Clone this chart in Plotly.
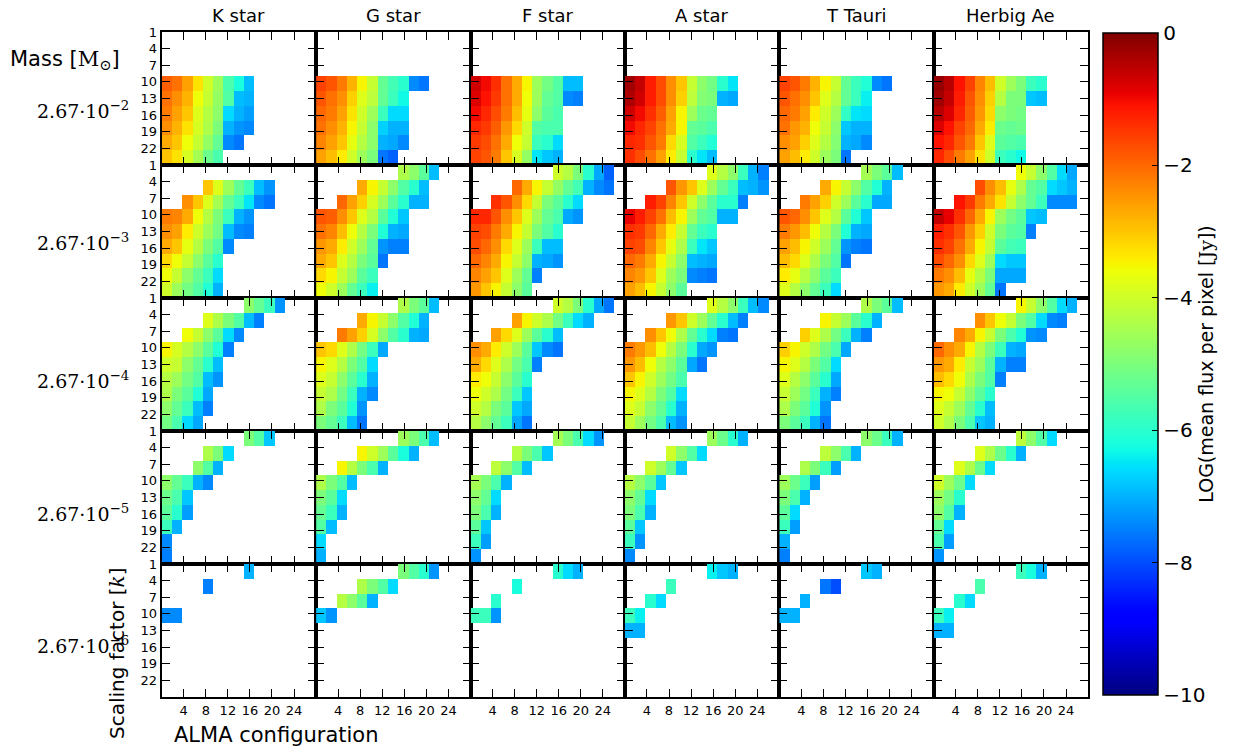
import plotly.graph_objects as go

# ---------------- data ----------------
stars = ["K star", "G star", "F star", "A star", "T Tauri", "Herbig Ae"]
mass_labels = ["2.67·10<sup>−2</sup>", "2.67·10<sup>−3</sup>", "2.67·10<sup>−4</sup>",
               "2.67·10<sup>−5</sup>", "2.67·10<sup>−6</sup>"]
scaling_rows = [1, 4, 7, 10, 13, 16, 19, 22, 25]
n_config = 15
x_ticks = [4, 8, 12, 16, 20, 24]
y_ticks = [1, 4, 7, 10, 13, 16, 19, 22]
cbar_ticks = [0, -2, -4, -6, -8, -10]


def R(start, vals=()):
    vals = list(vals)
    return [None] * (start - 1) + vals + [None] * (n_config - (start - 1) - len(vals))


E = R(1)

# mass 2.67e-2
K_2 = [E, E, E,
       R(1, [-1.9, -2.1, -2.6, -3.3, -4.0, -4.6, -5.6, -6.2, -6.9]),
       R(1, [-2.1, -2.4, -2.8, -3.6, -4.1, -4.7, -5.5, -6.9, -7.0]),
       R(1, [-2.2, -2.6, -3.0, -3.8, -4.3, -4.8, -6.6, -7.0, -7.2]),
       R(1, [-2.4, -2.8, -3.3, -3.9, -4.4, -5.0, -7.0, -7.3, -7.4]),
       R(1, [-2.7, -3.0, -3.6, -4.1, -4.7, -5.3, -7.4, -7.6]),
       R(1, [-3.0, -3.3, -3.9, -4.5, -5.2, -5.6])]
G_2 = [E, E, E,
       R(1, [-1.6, -1.8, -2.2, -2.8, -3.5, -4.1, -5.3, -5.7, -6.0, -7.4, -7.6]),
       R(1, [-1.8, -2.1, -2.4, -3.1, -3.8, -4.2, -5.3, -5.8, -6.3]),
       R(1, [-2.0, -2.2, -2.6, -3.3, -4.0, -4.6, -5.8, -6.6, -6.6]),
       R(1, [-2.1, -2.4, -2.8, -3.5, -4.1, -4.8, -6.7, -7.0, -7.0]),
       R(1, [-2.3, -2.6, -3.0, -3.7, -4.3, -4.8, -7.0, -7.1, -7.4]),
       R(1, [-2.6, -2.9, -3.4, -4.0, -4.6, -5.0, -7.6, -7.8])]
F_2 = [E, E, E,
       R(1, [-0.7, -1.0, -1.4, -2.1, -2.7, -3.5, -4.6, -5.1, -5.5, -6.9, -6.9]),
       R(1, [-0.8, -1.1, -1.5, -2.1, -2.7, -3.6, -4.6, -5.3, -5.5, -7.4, -7.5]),
       R(1, [-1.0, -1.3, -1.7, -2.2, -2.9, -3.7, -4.8, -5.4, -5.6]),
       R(1, [-1.3, -1.5, -1.9, -2.5, -3.2, -4.0, -5.5, -5.6, -5.6]),
       R(1, [-1.5, -1.7, -2.1, -2.7, -3.6, -4.1, -5.8, -6.0, -6.6]),
       R(1, [-1.6, -1.8, -2.2, -3.0, -3.9, -4.7, -6.5, -6.8, -7.0])]
A_2 = [E, E, E,
       R(1, [-0.3, -0.6, -1.2, -1.7, -2.4, -3.0, -4.1, -4.8, -5.1, -6.0, -6.5]),
       R(1, [-0.4, -0.7, -1.2, -1.7, -2.4, -3.1, -4.2, -4.9, -5.0, -7.0, -7.1]),
       R(1, [-0.7, -1.0, -1.4, -1.9, -2.6, -3.5, -4.6, -5.2, -5.3]),
       R(1, [-1.0, -1.3, -1.6, -2.1, -2.7, -3.5, -5.3, -5.4, -5.6]),
       R(1, [-1.3, -1.4, -1.8, -2.2, -3.2, -3.9, -5.5, -5.8, -6.1]),
       R(1, [-1.4, -1.7, -2.1, -2.6, -3.4, -4.1, -6.0, -6.5, -6.9])]
T_2 = [E, E, E,
       R(1, [-1.6, -1.8, -2.2, -2.8, -3.5, -4.1, -5.3, -5.8, -6.1, -7.4, -7.6]),
       R(1, [-1.8, -2.1, -2.4, -3.0, -3.8, -4.3, -5.3, -5.8, -6.4]),
       R(1, [-2.0, -2.2, -2.6, -3.4, -4.0, -4.6, -5.9, -6.5, -6.6]),
       R(1, [-2.1, -2.5, -2.8, -3.6, -4.1, -4.8, -6.8, -7.0, -7.0]),
       R(1, [-2.4, -2.6, -3.1, -3.8, -4.3, -4.9, -7.0, -7.1, -7.4]),
       R(1, [-2.6, -2.9, -3.4, -4.0, -4.6, -5.0, -7.6])]
H_2 = [E, E, E,
       R(1, [-0.2, -0.5, -1.1, -1.6, -2.3, -2.9, -4.0, -4.6, -5.0, -5.8, -6.0]),
       R(1, [-0.3, -0.6, -1.2, -1.8, -2.4, -3.1, -4.3, -5.0, -5.0, -6.8, -6.9]),
       R(1, [-0.5, -0.8, -1.3, -1.9, -2.5, -3.2, -4.8, -5.0, -5.1]),
       R(1, [-0.8, -1.1, -1.6, -2.0, -2.7, -3.4, -5.2, -5.3, -5.2]),
       R(1, [-1.1, -1.3, -1.8, -2.2, -3.0, -3.8, -5.4, -5.5, -5.6]),
       R(1, [-1.3, -1.7, -2.2, -2.6, -3.3, -4.0, -5.8, -6.0, -6.3])]

# mass 2.67e-3
K_3 = [E,
       R(5, [-3.0, -3.8, -4.6, -5.3, -5.8, -6.9, -7.3]),
       R(3, [-2.4, -3.0, -3.8, -4.5, -5.3, -5.8, -6.5, -7.4, -7.6]),
       R(1, [-2.2, -2.3, -2.7, -3.6, -4.3, -5.0, -5.8, -7.0, -7.3]),
       R(1, [-2.4, -2.6, -3.4, -4.0, -4.6, -5.1, -6.9, -7.4, -7.5]),
       R(1, [-2.7, -3.0, -3.7, -4.3, -5.0, -5.5, -7.4]),
       R(1, [-3.2, -3.6, -4.1, -4.8, -5.4, -6.0]),
       R(1, [-3.6, -4.1, -4.8, -5.3, -5.8, -6.6]),
       R(1, [-4.0, -4.6, -5.1, -5.5, -6.1, -7.0])]
G_3 = [R(9, [-4.4, -4.8, -5.4, -6.9]),
       R(5, [-2.7, -3.5, -4.1, -4.8, -5.5, -6.0, -6.9]),
       R(3, [-2.0, -2.6, -3.1, -3.9, -4.6, -5.4, -6.0, -7.0, -7.0]),
       R(1, [-1.8, -1.9, -2.4, -3.0, -3.8, -4.3, -5.4, -6.1, -6.8]),
       R(1, [-2.1, -2.3, -2.9, -3.6, -4.3, -5.0, -6.1, -7.0, -7.1]),
       R(1, [-2.5, -2.7, -3.4, -4.0, -4.6, -5.3, -7.3, -7.5, -7.5]),
       R(1, [-2.7, -3.0, -3.8, -4.3, -5.0, -5.4, -7.6]),
       R(1, [-3.2, -3.5, -4.1, -4.6, -5.4, -5.8]),
       R(1, [-3.6, -4.0, -4.6, -5.3, -5.8, -6.4])]
F_3 = [R(9, [-4.0, -4.3, -5.0, -6.0, -7.1, -7.8]),
       R(5, [-2.0, -2.7, -3.5, -4.1, -4.7, -5.3, -5.7, -7.0, -7.4, -7.6]),
       R(3, [-1.4, -1.8, -2.4, -3.2, -4.1, -5.0, -5.4, -6.0, -6.6]),
       R(1, [-1.3, -1.3, -1.8, -2.4, -3.0, -3.8, -4.6, -5.3, -5.6, -7.1, -7.3]),
       R(1, [-1.6, -1.7, -2.2, -2.7, -3.5, -4.1, -5.0, -5.5, -6.0]),
       R(1, [-1.7, -2.0, -2.4, -3.2, -3.8, -4.6, -5.8, -6.9, -6.9]),
       R(1, [-2.0, -2.3, -2.7, -3.5, -4.1, -4.8, -7.0, -7.1, -7.3]),
       R(1, [-2.3, -2.6, -3.0, -3.8, -4.6, -5.3, -7.5]),
       R(1, [-2.5, -3.0, -3.5, -4.1, -4.8, -5.4])]
A_3 = [R(9, [-3.8, -4.3, -4.8, -5.8, -7.0, -7.5]),
       R(5, [-1.8, -2.5, -3.0, -3.8, -4.6, -5.3, -5.8, -6.9, -7.0, -7.3]),
       R(3, [-1.2, -1.6, -2.3, -3.0, -4.0, -4.8, -5.4, -6.0, -6.0, -7.5]),
       R(1, [-0.9, -1.2, -1.6, -2.1, -2.9, -3.5, -4.6, -5.3, -5.5, -7.0, -7.0]),
       R(1, [-1.4, -1.5, -2.0, -2.7, -3.4, -4.1, -5.3, -5.8, -6.0]),
       R(1, [-1.6, -1.7, -2.3, -3.0, -3.7, -4.4, -5.8, -6.5, -6.8]),
       R(1, [-2.0, -2.2, -2.7, -3.5, -4.1, -4.8, -6.9, -7.0, -7.1]),
       R(1, [-2.3, -2.5, -3.0, -3.8, -4.6, -5.0, -7.4, -7.5, -7.6]),
       R(1, [-2.6, -2.9, -3.5, -4.1, -4.8, -5.4])]
T_3 = [R(9, [-4.5, -5.0, -5.4, -6.9]),
       R(5, [-2.7, -3.5, -4.1, -4.8, -5.5, -6.1, -7.0]),
       R(3, [-2.2, -2.6, -3.1, -4.0, -4.6, -5.4, -6.0, -7.1, -7.1]),
       R(1, [-1.8, -2.0, -2.4, -3.0, -3.8, -4.3, -5.4, -6.1, -6.8]),
       R(1, [-2.2, -2.5, -2.9, -3.6, -4.3, -5.0, -6.1, -7.0, -7.1]),
       R(1, [-2.6, -2.9, -3.5, -4.0, -4.6, -5.3, -7.3, -7.5, -7.6]),
       R(1, [-2.9, -3.2, -3.8, -4.4, -5.0, -5.5, -7.6]),
       R(1, [-3.4, -3.7, -4.3, -4.8, -5.4, -5.8]),
       R(1, [-3.8, -4.3, -4.8, -5.3, -5.8, -6.6])]
H_3 = [R(9, [-3.6, -4.1, -4.8, -5.5, -6.6, -7.1]),
       R(5, [-1.7, -2.4, -2.9, -3.7, -4.4, -5.3, -5.5, -6.6, -6.8, -7.0]),
       R(3, [-1.1, -1.5, -2.2, -2.7, -3.3, -4.1, -4.8, -5.3, -5.8, -7.4, -7.4, -7.4]),
       R(1, [-0.6, -0.9, -1.4, -2.0, -2.7, -3.5, -4.6, -5.1, -5.4, -6.8, -6.9]),
       R(1, [-1.2, -1.4, -1.8, -2.5, -3.1, -4.0, -5.0, -5.4, -5.5, -7.5]),
       R(1, [-1.4, -1.6, -2.1, -2.7, -3.5, -4.1, -5.4, -5.7, -5.8]),
       R(1, [-1.7, -2.0, -2.4, -3.2, -3.8, -4.6, -6.6, -6.8, -6.8]),
       R(1, [-2.2, -2.4, -2.9, -3.7, -4.3, -5.0, -7.1, -7.1, -7.1]),
       R(1, [-2.5, -2.7, -3.4, -4.0, -4.6, -5.3, -7.6])]

# mass 2.67e-4
K_4 = [R(9, [-4.8, -5.3, -5.8, -7.3]),
       R(5, [-3.8, -4.4, -5.0, -5.5, -6.9, -7.5]),
       R(3, [-3.6, -4.1, -4.8, -5.4, -6.6, -7.4]),
       R(1, [-3.5, -3.9, -4.3, -4.8, -5.4, -6.1, -7.5]),
       R(1, [-4.0, -4.1, -4.8, -5.3, -6.0, -6.9]),
       R(1, [-4.3, -4.6, -5.1, -5.5, -6.9, -7.3]),
       R(1, [-4.4, -5.0, -5.4, -6.1, -7.1]),
       R(1, [-4.8, -5.3, -5.8, -6.9, -7.5]),
       R(1, [-5.1, -5.6, -6.6, -7.1])]
G_4 = [R(9, [-4.4, -5.0, -5.4, -6.9]),
       R(5, [-2.7, -3.5, -4.1, -4.8, -5.5, -6.1, -7.0]),
       R(3, [-2.2, -2.6, -3.1, -3.9, -4.8, -5.5, -6.0, -7.0, -7.1]),
       R(1, [-3.0, -3.2, -3.8, -4.4, -5.1, -5.8, -7.1]),
       R(1, [-3.5, -3.8, -4.3, -5.0, -5.5, -6.6]),
       R(1, [-3.8, -4.1, -4.8, -5.4, -6.0, -7.0]),
       R(1, [-4.1, -4.4, -5.1, -5.8, -7.0, -7.4]),
       R(1, [-4.4, -5.0, -5.4, -6.1, -7.3]),
       R(1, [-5.0, -5.3, -5.8, -6.9, -7.6])]
F_4 = [R(9, [-4.0, -4.3, -5.0, -6.0, -7.1, -7.6]),
       R(5, [-2.6, -3.5, -4.0, -4.4, -5.1, -5.8, -6.6, -7.0]),
       R(3, [-2.6, -3.2, -3.8, -4.6, -5.4, -6.0, -6.9]),
       R(1, [-2.4, -2.7, -3.4, -4.0, -4.6, -5.4, -6.8, -7.4, -7.6]),
       R(1, [-2.7, -3.2, -3.8, -4.4, -5.1, -5.6, -7.5]),
       R(1, [-3.4, -3.6, -4.1, -4.8, -5.4, -6.0]),
       R(1, [-3.6, -4.0, -4.4, -5.1, -5.8, -6.8]),
       R(1, [-4.0, -4.3, -5.0, -5.4, -6.8, -7.1]),
       R(1, [-4.3, -4.8, -5.3, -5.8, -7.1, -7.6])]
A_4 = [R(9, [-3.8, -4.3, -4.8, -5.8, -6.9, -7.4]),
       R(5, [-2.5, -3.0, -4.0, -4.6, -5.3, -6.0, -6.9, -7.5]),
       R(3, [-2.4, -3.0, -3.6, -4.4, -5.3, -6.0, -6.6, -7.5, -7.6]),
       R(1, [-2.2, -2.5, -2.9, -3.6, -4.3, -5.0, -6.0, -7.1, -7.3]),
       R(1, [-2.5, -2.9, -3.6, -4.3, -4.8, -5.4, -7.1, -7.6]),
       R(1, [-3.0, -3.5, -4.0, -4.6, -5.1, -5.6]),
       R(1, [-3.5, -3.8, -4.3, -5.0, -5.5, -6.6]),
       R(1, [-3.8, -4.1, -4.8, -5.3, -6.0, -7.0]),
       R(1, [-4.1, -4.6, -5.1, -5.6, -6.9, -7.3])]
T_4 = [R(9, [-4.4, -5.0, -5.4, -6.9]),
       R(5, [-3.5, -4.1, -4.6, -5.4, -6.0, -7.0]),
       R(3, [-3.1, -3.8, -4.4, -5.1, -5.8, -7.0, -7.5]),
       R(1, [-3.1, -3.5, -4.0, -4.4, -5.1, -5.6, -7.1]),
       R(1, [-3.5, -3.8, -4.3, -5.0, -5.5, -6.6]),
       R(1, [-3.8, -4.3, -4.8, -5.4, -6.0, -7.1]),
       R(1, [-4.1, -4.6, -5.1, -5.8, -7.0, -7.5]),
       R(1, [-4.4, -5.0, -5.4, -6.1, -7.3]),
       R(1, [-5.0, -5.4, -5.8, -7.0, -7.6])]
H_4 = [R(9, [-3.5, -4.1, -4.8, -5.5, -6.6, -7.0]),
       R(5, [-2.4, -3.0, -3.6, -4.1, -5.0, -5.5, -6.6, -7.4, -7.5]),
       R(3, [-2.3, -2.7, -3.5, -4.1, -5.0, -5.6, -6.1, -7.3, -7.4]),
       R(1, [-2.0, -2.4, -2.7, -3.5, -4.3, -5.0, -5.8, -7.0, -7.1]),
       R(1, [-2.5, -2.7, -3.4, -4.1, -4.6, -5.4, -7.0, -7.5, -7.5]),
       R(1, [-2.9, -3.2, -3.6, -4.4, -5.0, -5.5, -7.5]),
       R(1, [-3.5, -3.6, -4.1, -4.8, -5.4, -6.0]),
       R(1, [-3.8, -4.1, -4.6, -5.3, -6.0, -6.9]),
       R(1, [-4.0, -4.4, -5.0, -5.6, -6.8, -7.0])]

# mass 2.67e-5
K_5 = [R(9, [-5.0, -5.5, -6.8]),
       R(5, [-4.4, -5.0, -6.6]),
       R(4, [-4.8, -5.5, -7.0]),
       R(1, [-4.8, -5.3, -5.8, -7.0, -7.4]),
       R(1, [-5.2, -5.6, -6.8]),
       R(1, [-5.4, -6.0, -7.2]),
       R(1, [-5.8, -7.0]),
       R(1, [-7.4]),
       R(1, [-7.5])]
G_5 = [R(9, [-4.6, -5.0, -5.6, -6.9]),
       R(5, [-3.5, -4.0, -4.6, -5.4, -6.2, -7.0]),
       R(3, [-3.5, -4.3, -5.0, -5.6, -7.0]),
       R(1, [-4.4, -5.0, -5.5, -6.9]),
       R(1, [-5.0, -5.4, -6.6]),
       R(1, [-5.3, -5.8, -7.0]),
       R(1, [-5.5, -6.9]),
       R(1, [-6.6]),
       R(1, [-7.0])]
F_5 = [R(9, [-4.5, -5.0, -5.6, -6.6, -7.3]),
       R(5, [-4.3, -5.0, -5.6, -6.8]),
       R(3, [-4.2, -4.8, -5.5, -6.9]),
       R(1, [-4.5, -5.0, -5.6, -7.0]),
       R(1, [-4.8, -5.3, -6.6]),
       R(1, [-5.0, -5.6, -7.0]),
       R(1, [-5.4, -6.8]),
       R(1, [-5.8, -7.2]),
       R(1, [-7.3])]
A_5 = [R(9, [-4.6, -5.2, -6.0, -7.0]),
       R(5, [-4.0, -4.8, -5.5, -6.6]),
       R(3, [-4.0, -4.6, -5.3, -6.8]),
       R(1, [-4.3, -4.8, -5.4, -6.8]),
       R(1, [-4.8, -5.3, -6.6]),
       R(1, [-5.0, -5.6, -7.0]),
       R(1, [-5.4, -6.8]),
       R(1, [-5.8, -7.3]),
       R(1, [-7.4])]
T_5 = [R(9, [-4.8, -5.2, -5.8, -7.0]),
       R(5, [-4.2, -4.8, -5.6, -7.0]),
       R(3, [-4.4, -5.0, -5.8, -7.2]),
       R(1, [-4.6, -5.2, -5.8, -7.2]),
       R(1, [-5.0, -5.6, -7.0]),
       R(1, [-5.4, -6.6]),
       R(1, [-5.8, -7.2]),
       R(1, [-7.0]),
       R(1, [-7.5])]
H_5 = [R(9, [-4.2, -4.8, -5.5, -6.6]),
       R(5, [-3.8, -4.4, -5.2, -6.0, -7.0]),
       R(3, [-3.8, -4.4, -5.2, -6.6]),
       R(1, [-4.0, -4.6, -5.2, -6.6]),
       R(1, [-4.6, -5.1, -6.0]),
       R(1, [-4.8, -5.5, -7.0]),
       R(1, [-5.3, -6.6]),
       R(1, [-5.6, -7.2]),
       R(1, [-7.3])]

# mass 2.67e-6
K_6 = [R(9, [-7.0]), R(5, [-7.5]), E, R(1, [-7.4, -7.4]), E, E, E, E, E]
G_6 = [R(9, [-5.0, -5.5, -6.0, -7.3]), R(5, [-4.4, -5.0, -5.5, -6.6]),
       R(3, [-4.3, -4.8, -5.4, -7.0]), R(1, [-6.8, -7.3]), E, E, E, E, E]
F_6 = [R(9, [-6.0, -6.6, -7.0]), R(5, [-6.2]), R(3, [-6.0]),
       R(1, [-5.8, -5.8, -7.3]), E, E, E, E, E]
A_6 = [R(9, [-6.4, -6.8, -7.0]), R(5, [-5.8]), R(3, [-6.0, -6.6]),
       R(1, [-5.8, -6.4]), R(1, [-7.0, -7.0]), E, E, E, E]
T_6 = [R(9, [-6.8, -7.0]), R(5, [-7.6, -8.0]), R(3, [-7.0]),
       R(1, [-7.0, -7.0]), E, E, E, E, E]
H_6 = [R(9, [-5.8, -6.2, -7.0]), R(5, [-5.6]), R(3, [-6.0, -6.6]),
       R(1, [-5.8, -6.4]), R(1, [-7.0, -7.0]), E, E, E, E]

panels = [
    [K_2, G_2, F_2, A_2, T_2, H_2],
    [K_3, G_3, F_3, A_3, T_3, H_3],
    [K_4, G_4, F_4, A_4, T_4, H_4],
    [K_5, G_5, F_5, A_5, T_5, H_5],
    [K_6, G_6, F_6, A_6, T_6, H_6],
]

# ---------------- matplotlib "jet" colormap ----------------
_jet = {
    "r": [(0, 0), (0.35, 0), (0.66, 1), (0.89, 1), (1, 0.5)],
    "g": [(0, 0), (0.125, 0), (0.375, 1), (0.64, 1), (0.91, 0), (1, 0)],
    "b": [(0, 0.5), (0.11, 1), (0.34, 1), (0.65, 0), (1, 0)],
}


def _interp(pts, t):
    for (x0, y0), (x1, y1) in zip(pts[:-1], pts[1:]):
        if x0 <= t <= x1:
            return y0 + (y1 - y0) * (t - x0) / (x1 - x0)
    return pts[-1][1]


jet_scale = []
for i in range(101):
    t = i / 100
    r, g, b = (round(255 * _interp(_jet[k], t)) for k in "rgb")
    jet_scale.append([t, f"rgb({r},{g},{b})"])

# ---------------- layout geometry ----------------
W, H = 1252, 751
left0, pw = 161.7, 154.4
top0, ph = 32.0, 133.0
X_MAX = 28.0
Y_TOP, Y_BOT = 1.0, 25.0
dx = X_MAX / n_config
dy = (Y_BOT - Y_TOP) / len(scaling_rows)

FONT = "DejaVu Sans"
SERIF = "DejaVu Serif"

fig = go.Figure()
layout = dict(
    template="none",
    width=W, height=H, margin=dict(l=0, r=0, t=0, b=0, pad=0, autoexpand=False),
    paper_bgcolor="white", plot_bgcolor="white",
    font=dict(family=FONT, color="black"),
    showlegend=False,
)

for r in range(5):
    for c in range(6):
        n = r * 6 + c + 1
        xa = "x" if n == 1 else f"x{n}"
        ya = "y" if n == 1 else f"y{n}"
        fig.add_trace(go.Heatmap(
            z=panels[r][c], x0=dx / 2, dx=dx, y0=Y_TOP + dy / 2, dy=dy,
            coloraxis="coloraxis", xaxis=xa, yaxis=ya, hoverongaps=False,
        ))
        l = left0 + c * pw
        t = top0 + r * ph
        layout["xaxis" if n == 1 else f"xaxis{n}"] = dict(
            domain=[l / W, (l + pw) / W], range=[0, X_MAX], anchor=ya,
            tickmode="array", tickvals=x_ticks, showticklabels=(r == 4),
            ticks="inside", ticklen=8, tickwidth=1.3, tickcolor="black",
            showline=True, linecolor="black", linewidth=2, mirror="ticks",
            showgrid=False, zeroline=False, tickfont=dict(size=13, family=FONT),
            fixedrange=True, automargin=False,
        )
        layout["yaxis" if n == 1 else f"yaxis{n}"] = dict(
            domain=[1 - (t + ph) / H, 1 - t / H], range=[Y_BOT, Y_TOP], anchor=xa,
            tickmode="array", tickvals=y_ticks, showticklabels=(c == 0),
            ticks="inside", ticklen=8, tickwidth=1.3, tickcolor="black",
            showline=True, linecolor="black", linewidth=2, mirror="ticks",
            showgrid=False, zeroline=False, tickfont=dict(size=13, family=FONT),
            fixedrange=True, automargin=False,
        )

layout["coloraxis"] = dict(
    colorscale=jet_scale, cmin=-10, cmax=0,
    colorbar=dict(
        x=1103 / W, xanchor="left", xpad=0, y=1 - 364 / H, yanchor="middle", ypad=0,
        len=662 / H, lenmode="fraction", thickness=55, thicknessmode="pixels",
        outlinecolor="black", outlinewidth=1.5,
        tickmode="array", tickvals=cbar_ticks, ticks="inside", ticklen=6,
        tickcolor="black", tickfont=dict(size=20, family=FONT),
        title=dict(text="LOG(mean flux per pixel [<span style='font-family:DejaVu Serif'>Jy</span>])",
                   side="right", font=dict(size=19, family=FONT)),
    ),
)

ann = []
for c, s in enumerate(stars):
    ann.append(dict(text=s, x=(left0 + (c + 0.5) * pw) / W, y=1 - 15 / H,
                    xanchor="center", yanchor="middle",
                    xref="paper", yref="paper", showarrow=False,
                    font=dict(size=18, family=FONT)))
label_y = [110, 242, 380, 513, 645]
for r, m in enumerate(mass_labels):
    ann.append(dict(text=m, x=83 / W, y=1 - label_y[r] / H, xanchor="center", yanchor="middle",
                    xref="paper", yref="paper",
                    showarrow=False, font=dict(size=19, family=SERIF)))
ann.append(dict(text="Mass [<span style='font-family:DejaVu Serif'>M<sub>⊙</sub></span>]",
                x=8 / W, y=1 - 60 / H, xanchor="left", yanchor="middle",
                xref="paper", yref="paper",
                showarrow=False, font=dict(size=21, family=FONT)))
ann.append(dict(text="ALMA configuration", x=172 / W, y=1 - 735 / H, xanchor="left",
                yanchor="middle",
                xref="paper", yref="paper", showarrow=False, font=dict(size=21, family=FONT)))
ann.append(dict(text="Scaling factor [<i><span style='font-family:DejaVu Serif'>k</span></i>]",
                x=117 / W, y=1 - 654 / H, textangle=-90, xanchor="center", yanchor="middle",
                xref="paper", yref="paper", showarrow=False, font=dict(size=20, family=FONT)))
layout["annotations"] = ann

fig.update_layout(**layout)
fig.write_html("out.html", config={"displayModeBar": False},
               post_script="document.body.style.margin='0';document.body.style.padding='0';")
